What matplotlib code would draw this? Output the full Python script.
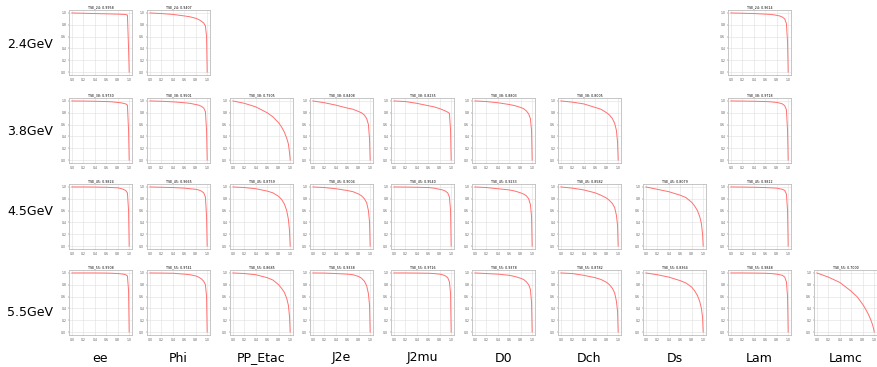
import numpy as np
import matplotlib
matplotlib.use('Agg')
from matplotlib import pyplot as plt

channels = ['ee', 'Phi', 'PP_Etac', 'J2e', 'J2mu', 'D0', 'Dch', 'Ds', 'Lam', 'Lamc']
energies = ['2.4GeV', '3.8GeV', '4.5GeV', '5.5GeV']
tags = ['24', '38', '45', '55']

# signal efficiency points shared by all curves
eff = [0.0, 0.2, 0.4, 0.6, 0.7, 0.8, 0.85, 0.9, 0.94, 0.97, 0.99, 1.0, 1.0]

# background rejection, keyed by (energy index, channel)
rej = {
    (0, 'ee'):      [1.0, .995, .99, .985, .983, .98, .978, .976, .973, .965, .4, .05, 0],
    (0, 'Phi'):     [1.0, .99, .975, .95, .935, .91, .89, .86, .83, .78, .6, .05, 0],
    (0, 'Lam'):     [1.0, .995, .99, .98, .975, .96, .95, .93, .9, .82, .5, .05, 0],
    (1, 'ee'):      [1.0, .998, .995, .99, .985, .975, .97, .96, .95, .93, .5, .05, 0],
    (1, 'Phi'):     [1.0, .995, .985, .97, .96, .94, .93, .91, .88, .82, .5, .05, 0],
    (1, 'PP_Etac'): [1.0, .96, .9, .8, .73, .63, .56, .47, .37, .27, .12, .02, 0],
    (1, 'J2e'):     [1.0, .97, .93, .88, .86, .82, .8, .76, .7, .6, .35, .02, 0],
    (1, 'J2mu'):    [1.0, .99, .96, .92, .9, .87, .85, .83, .81, .79, .5, .02, 0],
    (1, 'D0'):      [1.0, .99, .97, .94, .92, .89, .87, .83, .78, .7, .5, .02, 0],
    (1, 'Dch'):     [1.0, .98, .95, .89, .86, .8, .76, .7, .62, .5, .3, .02, 0],
    (1, 'Lam'):     [1.0, .998, .995, .99, .985, .975, .965, .95, .92, .85, .5, .03, 0],
    (2, 'ee'):      [1.0, 1.0, .998, .995, .99, .985, .975, .96, .94, .9, .6, .05, 0],
    (2, 'Phi'):     [1.0, .995, .99, .98, .97, .96, .95, .93, .9, .83, .5, .03, 0],
    (2, 'PP_Etac'): [1.0, .99, .97, .93, .9, .84, .79, .71, .6, .45, .25, .02, 0],
    (2, 'J2e'):     [1.0, .99, .97, .94, .92, .88, .85, .8, .73, .6, .4, .02, 0],
    (2, 'J2mu'):    [1.0, .998, .995, .99, .98, .96, .95, .93, .9, .83, .6, .03, 0],
    (2, 'D0'):      [1.0, .99, .97, .95, .93, .9, .88, .85, .8, .7, .5, .02, 0],
    (2, 'Dch'):     [1.0, .98, .95, .9, .86, .81, .77, .72, .65, .52, .35, .02, 0],
    (2, 'Ds'):      [1.0, .96, .92, .86, .82, .74, .68, .6, .5, .38, .2, .02, 0],
    (2, 'Lam'):     [1.0, .998, .995, .99, .985, .98, .97, .96, .94, .88, .6, .05, 0],
    (3, 'ee'):      [1.0, 1.0, 1.0, .998, .995, .99, .985, .98, .97, .95, .7, .05, 0],
    (3, 'Phi'):     [1.0, .998, .995, .98, .97, .95, .93, .9, .86, .8, .6, .03, 0],
    (3, 'PP_Etac'): [1.0, .99, .97, .92, .88, .8, .74, .67, .57, .45, .25, .02, 0],
    (3, 'J2e'):     [1.0, .998, .99, .98, .97, .94, .91, .86, .78, .65, .45, .02, 0],
    (3, 'J2mu'):    [1.0, 1.0, .998, .995, .99, .98, .97, .95, .92, .85, .65, .03, 0],
    (3, 'D0'):      [1.0, .99, .98, .96, .94, .91, .89, .85, .8, .72, .5, .02, 0],
    (3, 'Dch'):     [1.0, .99, .96, .92, .89, .84, .8, .74, .66, .52, .35, .02, 0],
    (3, 'Ds'):      [1.0, .97, .93, .87, .83, .76, .7, .62, .52, .4, .25, .02, 0],
    (3, 'Lam'):     [1.0, 1.0, .998, .995, .99, .98, .97, .96, .93, .85, .6, .05, 0],
    (3, 'Lamc'):    [1.0, .93, .84, .69, .6, .47, .39, .3, .21, .13, .06, .01, 0],
}

# title scores (approximate, unreadable in the picture)
score = {
    (0, 'ee'): 0.9958, (0, 'Phi'): 0.9407, (0, 'Lam'): 0.9614,
    (1, 'ee'): 0.9730, (1, 'Phi'): 0.9501, (1, 'PP_Etac'): 0.7905, (1, 'J2e'): 0.8408,
    (1, 'J2mu'): 0.8235, (1, 'D0'): 0.8803, (1, 'Dch'): 0.8005, (1, 'Lam'): 0.9718,
    (2, 'ee'): 0.9824, (2, 'Phi'): 0.9665, (2, 'PP_Etac'): 0.8759, (2, 'J2e'): 0.9004,
    (2, 'J2mu'): 0.9540, (2, 'D0'): 0.9233, (2, 'Dch'): 0.8582, (2, 'Ds'): 0.8079,
    (2, 'Lam'): 0.9812,
    (3, 'ee'): 0.9908, (3, 'Phi'): 0.9741, (3, 'PP_Etac'): 0.8685, (3, 'J2e'): 0.9338,
    (3, 'J2mu'): 0.9716, (3, 'D0'): 0.9378, (3, 'Dch'): 0.8782, (3, 'Ds'): 0.8364,
    (3, 'Lam'): 0.9848, (3, 'Lamc'): 0.7000,
}

W, H = 878, 367
col_left = [69, 147, 230, 310, 391, 472, 558, 643, 728, 814]
row_top = [10, 98, 184, 270]
row_label_y = [44, 131, 211, 313]
aw, ah = 63, 65

fig = plt.figure(figsize=(W / 100, H / 100), dpi=100)

for (r, ch), y in rej.items():
    c = channels.index(ch)
    ax = fig.add_axes([col_left[c] / W, 1 - (row_top[r] + ah) / H, aw / W, ah / H])
    ax.plot(eff, y, color='#ff7070', lw=0.7)
    ax.set_xlim(-0.05, 1.05)
    ax.set_ylim(-0.05, 1.05)
    ticks = [0.0, 0.2, 0.4, 0.6, 0.8, 1.0]
    ax.set_xticks(ticks)
    ax.set_yticks(ticks)
    ax.set_xticklabels(['%.1f' % t for t in ticks])
    ax.set_yticklabels(['%.1f' % t for t in ticks])
    ax.tick_params(labelsize=2.2, length=1, width=0.3, pad=1, colors='#555555')
    ax.grid(color='#e0e0e0', lw=0.4)
    ax.set_axisbelow(True)
    for s in ax.spines.values():
        s.set_color('#bdbdbd')
        s.set_linewidth(0.6)
    ax.set_title('TSE_%s: %.4f' % (tags[r], score[(r, ch)]), fontsize=2.3, pad=1.5)

for r, lab in enumerate(energies):
    fig.text(7 / W, 1 - row_label_y[r] / H, lab, fontsize=9, ha='left', va='center')

for c, lab in enumerate(channels):
    fig.text((col_left[c] + aw / 2) / W, 1 - 358 / H, lab, fontsize=9, ha='center', va='center')

fig.savefig('out.png', dpi=100)
